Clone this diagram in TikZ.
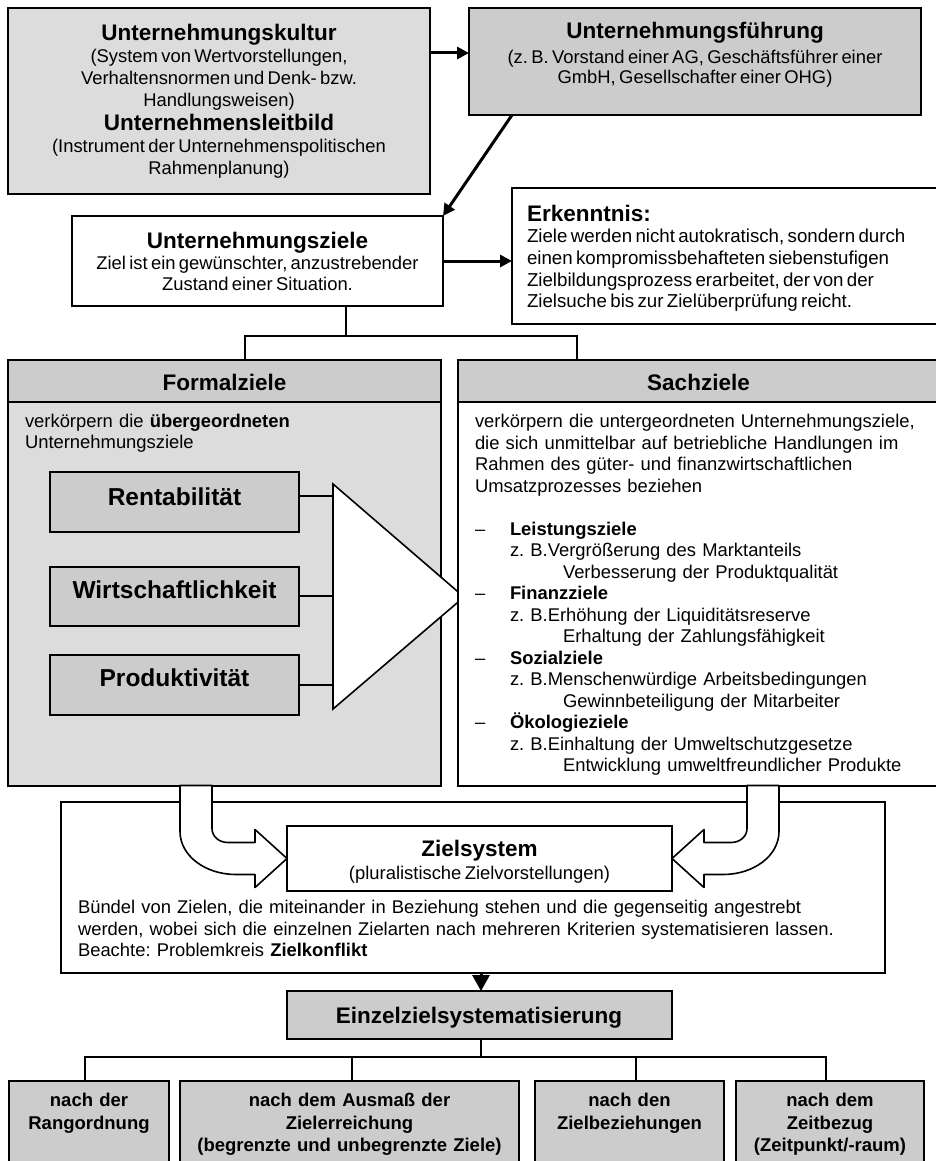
\documentclass[tikz,border=0pt]{standalone}
\usepackage{fontspec}
\setmainfont{Liberation Sans}
\usetikzlibrary{arrows.meta,calc}
\definecolor{boxgray}{HTML}{CCCCCC}
\definecolor{panelgray}{HTML}{DCDCDC}
\newcommand\ttlfont{\fontsize{22.5}{24}\selectfont\bfseries}
\newcommand\bdyfont[1]{\fontsize{18.4}{#1}\selectfont}
\newcommand\notefont[1]{\fontsize{18.7}{#1}\selectfont}
\newcommand\bigbold{\fontsize{24.5}{26}\selectfont\bfseries}
\newcommand\smallbold{\fontsize{18.5}{22.5}\selectfont\bfseries}
\frenchspacing
\tikzset{
  box/.style={draw=black, line width=1.8pt, rectangle, inner sep=0pt, outer sep=0pt},
  sz/.style 2 args={minimum width=#1, minimum height=#2},
  txt/.style={inner sep=0pt, outer sep=0pt, align=center, anchor=north},
  txtl/.style={inner sep=0pt, outer sep=0pt, align=left, anchor=north west},
  lbl/.style={inner sep=0pt, outer sep=0pt, anchor=base},
  conn/.style={line width=1.6pt},
  arr/.style={line width=3pt, -{Triangle[length=12pt,width=12pt]}},
  bigarr/.style={line width=3pt, -{Triangle[length=16pt,width=17pt]}},
  hollow/.style={draw=black, fill=white, line width=1.6pt, line join=round},
}
\begin{document}
\begin{tikzpicture}[x=1pt,y=-1pt]
\useasboundingbox (0,0) rectangle (936,1161);
\fill[white] (0,0) rectangle (936,1161);

% ---------- top row ----------
\node[box, fill=panelgray, sz={422}{186}] (kultur) at (219,101) {};
\node[txt, text width=420] (kulturtext) at (219,23.3) {%
  {\ttlfont\strut Unternehmungskultur\par}
  {\bdyfont{22}(System von Wertvorstellungen,\\Verhaltensnormen und Denk- bzw.\\Handlungsweisen)\par}
  {\ttlfont Unternehmensleitbild\par}
  {\bdyfont{22}(Instrument der Unternehmenspolitischen\\Rahmenplanung)\par}};

\node[box, fill=boxgray, sz={452}{107}] (fuehrung) at (695,61.5) {};
\node[txt, text width=450] (fuehrungtext) at (695,21.3) {%
  {\ttlfont\strut Unternehmungsführung\par}\vspace{3.5pt}
  {\bdyfont{20}(z. B. Vorstand einer AG, Geschäftsführer einer\\GmbH, Gesellschafter einer OHG)\par}};

\draw[arr] ($(kultur.north east)+(0,45)$) -- ($(fuehrung.north west)+(0,45)$);

% ---------- goals ----------
\node[box, fill=white, sz={371}{90}] (ziele) at (257.5,261) {};
\node[txt, text width=369] (zieletext) at (257.5,231.3) {%
  {\ttlfont\strut Unternehmungsziele\par}
  {\bdyfont{21}Ziel ist ein gewünschter, anzustrebender\\Zustand einer Situation.\par}};

\node[box, fill=white, sz={428}{136}] (erk) at (726,256) {};
\node[txtl, text width=418] (erktext) at (527,204.3) {%
  {\ttlfont\strut Erkenntnis:\par}
  {\notefont{21.7}Ziele werden nicht autokratisch, sondern durch\\einen kompromissbehafteten siebenstufigen\\Zielbildungsprozess erarbeitet, der von der\\Zielsuche bis zur Zielüberprüfung reicht.\par}};

\draw[arr] ($(fuehrung.south west)+(43,0)$) -- (ziele.north east);
\draw[arr] (ziele.east) -- (ziele.east -| erk.west);

% ---------- formal goals ----------
\node[box, fill=panelgray, sz={433}{426}] (formal) at (224.5,573) {};
\node[box, fill=boxgray, sz={433}{42}] (formalhead) at (224.5,381) {};
\node[lbl, font=\ttlfont] (formaltitle) at (224.5,390.1) {Formalziele};
\node[txtl, text width=400, font=\bdyfont{21}] (formaltext) at (25,412.9)
  {\strut verkörpern die \textbf{übergeordneten}\\Unternehmungsziele};

\node[box, fill=boxgray, sz={249}{60}] (rent) at (174.5,502) {};
\node[box, fill=boxgray, sz={249}{59}] (wirt) at (174.5,596.5) {};
\node[box, fill=boxgray, sz={249}{60}] (prod) at (174.5,685) {};
\node[lbl, font=\bigbold] (renttext) at (174.5,505.5) {Rentabilität};
\node[lbl, font=\bigbold] (wirttext) at (174.5,598.8) {Wirtschaftlichkeit};
\node[lbl, font=\bigbold] (prodtext) at (174.5,686.8) {Produktivität};

\coordinate (tritop) at (333,484);
\coordinate (tritip) at (464,597);
\coordinate (tribot) at (333,709);
\draw[conn, fill=white] (tritop) -- (tritip) -- (tribot) -- cycle;
\draw[conn] ($(rent.east)+(0,-6)$) -- ($(rent.east)+(34,-6)$);
\draw[conn] ($(wirt.east)+(0,-0.5)$) -- ($(wirt.east)+(34,-0.5)$);
\draw[conn] (prod.east) -- (prod.east -| tritop);

% ---------- material goals ----------
\node[box, fill=white, sz={482}{426}] (sach) at (699,573) {};
\node[box, fill=boxgray, sz={482}{42}] (sachhead) at (699,381) {};
\node[lbl, font=\ttlfont] (sachtitle) at (698.5,390.1) {Sachziele};
\node[txtl, text width=460, font=\bdyfont{21.5}] (sachtext) at (475,412.5) {%
\strut verkörpern die untergeordneten Unternehmungsziele,\\
die sich unmittelbar auf betriebliche Handlungen im\\
Rahmen des güter- und finanzwirtschaftlichen\\
Umsatzprozesses beziehen\\[21.5pt]
\makebox[35pt][l]{–}\textbf{Leistungsziele}\\
\hspace*{35pt}z. B.Vergrößerung des Marktanteils\\
\hspace*{88pt}Verbesserung der Produktqualität\\
\makebox[35pt][l]{–}\textbf{Finanzziele}\\
\hspace*{35pt}z. B.Erhöhung der Liquiditätsreserve\\
\hspace*{88pt}Erhaltung der Zahlungsfähigkeit\\
\makebox[35pt][l]{–}\textbf{Sozialziele}\\
\hspace*{35pt}z. B.Menschenwürdige Arbeitsbedingungen\\
\hspace*{88pt}Gewinnbeteiligung der Mitarbeiter\\
\makebox[35pt][l]{–}\textbf{Ökologieziele}\\
\hspace*{35pt}z. B.Einhaltung der Umweltschutzgesetze\\
\hspace*{88pt}Entwicklung umweltfreundlicher Produkte};

% tree from the goals box to both columns
\coordinate (zstem) at ($(ziele.south west)+(274,0)$);
\coordinate (zbus) at ($(zstem)+(0,30)$);
\coordinate (fdrop) at ($(formal.north west)+(237,0)$);
\coordinate (sdrop) at ($(sach.north west)+(119,0)$);
\draw[conn] (zstem) -- (zbus);
\draw[conn] (fdrop) |- (zbus) -| (sdrop);

% ---------- goal system ----------
\node[box, fill=white, sz={824}{171}] (zbig) at (473,887.5) {};
\node[box, fill=white, sz={385}{65}] (zsmall) at (479.5,858.5) {};
\node[txt, text width=383] (zsmalltext) at (479.5,839.3) {%
  {\ttlfont\strut Zielsystem\par}
  {\bdyfont{23.5}(pluralistische Zielvorstellungen)\par}};
\node[txtl, text width=795, font=\bdyfont{21.5}] (zbigtext) at (78,898.5) {%
\strut Bündel von Zielen, die miteinander in Beziehung stehen und die gegenseitig angestrebt\\
werden, wobei sich die einzelnen Zielarten nach mehreren Kriterien systematisieren lassen.\\
Beachte: Problemkreis \textbf{Zielkonflikt}};

% hollow bent arrows into the goal system
\begin{scope}[shift={(zsmall.west)}]
\draw[hollow] (-107,-73) -- (-107,-27) .. controls (-107,-3) and (-82,16) .. (-51,16)
  -- (-32,16) -- (-32,29) -- (0,0) -- (-32,-29) -- (-32,-16) -- (-59,-16)
  .. controls (-68,-16) and (-75,-22) .. (-75,-30) -- (-75,-73) -- cycle;
\end{scope}
\begin{scope}[shift={(zsmall.east)}, xscale=-1]
\draw[hollow] (-107,-73) -- (-107,-27) .. controls (-107,-3) and (-82,16) .. (-51,16)
  -- (-32,16) -- (-32,29) -- (0,0) -- (-32,-29) -- (-32,-16) -- (-59,-16)
  .. controls (-68,-16) and (-75,-22) .. (-75,-30) -- (-75,-73) -- cycle;
\end{scope}

% ---------- systematisation ----------
\node[box, fill=boxgray, sz={385}{48}] (einzel) at (479.5,1015) {};
\node[lbl, font=\ttlfont] (einzeltext) at (479,1023) {Einzelzielsystematisierung};
\draw[bigarr] ($(zbig.south -| einzel.north)+(1.5,0)$) -- ($(einzel.north)+(1.5,0)$);

\node[box, fill=boxgray, sz={160}{94}] (b1) at (89,1128) {};
\node[box, fill=boxgray, sz={339}{94}] (b2) at (349.5,1128) {};
\node[box, fill=boxgray, sz={189}{94}] (b3) at (629.5,1128) {};
\node[box, fill=boxgray, sz={188}{94}] (b4) at (830,1128) {};
\node[txt, text width=158, font=\smallbold] (b1t) at (89,1090.85) {\strut nach der\\Rangordnung};
\node[txt, text width=337, font=\smallbold] (b2t) at (349.5,1090.85) {\strut nach dem Ausmaß der\\Zielerreichung\\(begrenzte und unbegrenzte Ziele)};
\node[txt, text width=187, font=\smallbold] (b3t) at (629.5,1090.85) {\strut nach den\\Zielbeziehungen};
\node[txt, text width=186, font=\smallbold] (b4t) at (830,1090.85) {\strut nach dem\\Zeitbezug\\(Zeitpunkt/-raum)};

\coordinate (estem) at ($(einzel.south)+(1,0)$);
\coordinate (ebus) at ($(estem)+(0,18)$);
\coordinate (d1) at ($(b1.north)+(-4,0)$);
\coordinate (d2) at ($(b2.north)+(2.5,0)$);
\coordinate (d3) at ($(b3.north)+(6.5,0)$);
\coordinate (d4) at ($(b4.north)+(-4,0)$);
\draw[line width=2pt] (estem) -- (ebus);
\draw[conn] (d1) |- (ebus) -| (d4);
\draw[conn] (d2) -- (d2 |- ebus);
\draw[conn] (d3) -- (d3 |- ebus);
\end{tikzpicture}
\end{document}
